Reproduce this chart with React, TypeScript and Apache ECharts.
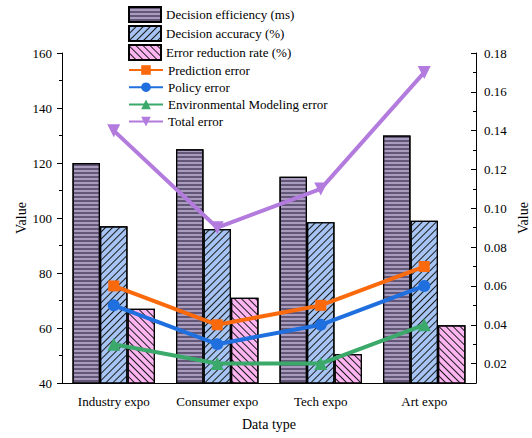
import React, { useEffect, useRef } from "react";
import * as echarts from "echarts";

const categories = ["Industry expo", "Consumer expo", "Tech expo", "Art expo"];

const decisionEfficiency = [120, 125, 115, 130];
const decisionAccuracy = [97, 96, 98.5, 99];
const errorReduction = [67, 71, 50.5, 61];

const predictionError = [0.06, 0.04, 0.05, 0.07];
const policyError = [0.05, 0.03, 0.04, 0.06];
const envModelingError = [0.03, 0.02, 0.02, 0.04];
const totalError = [0.14, 0.09, 0.11, 0.17];

const leftTicks = [40, 60, 80, 100, 120, 140, 160];
const rightTicks = [0.02, 0.04, 0.06, 0.08, 0.1, 0.12, 0.14, 0.16, 0.18];

const FONT = "'Liberation Serif', 'Times New Roman', serif";

export default function App() {
  const ref = useRef<HTMLDivElement>(null);

  useEffect(() => {
    document.body.style.margin = "0";
    if (!ref.current) return;
    const chart = echarts.init(ref.current, null, { renderer: "svg" });

    const barBase = {
      type: "bar",
      xAxisIndex: 0,
      yAxisIndex: 0,
      barWidth: 27.5,
      barGap: "0%",
    };

    const lineBase = (color: string, symbol: string, size: number, rotate = 0) => ({
      type: "line",
      xAxisIndex: 0,
      yAxisIndex: 1,
      symbol,
      symbolSize: size,
      symbolRotate: rotate,
      lineStyle: { color, width: 4 },
      itemStyle: { color },
      z: 5,
    });

    const legendText = { fontFamily: FONT, fontSize: 13, color: "#000" };

    chart.setOption({
      animation: false,
      textStyle: { fontFamily: FONT, color: "#000" },
      grid: {
        left: 62,
        right: 56,
        top: 53,
        bottom: 55,
        containLabel: false,
        outerBoundsMode: "none",
      },
      legend: [
        {
          orient: "vertical",
          left: 128,
          top: 6,
          padding: 0,
          icon: "rect",
          itemWidth: 32,
          itemHeight: 15,
          itemGap: 2,
          textStyle: legendText,
          data: ["Decision efficiency (ms)", "Decision accuracy (%)", "Error reduction rate (%)"],
        },
        {
          orient: "vertical",
          left: 128,
          top: 63.5,
          padding: 0,
          itemWidth: 34,
          itemHeight: 12,
          itemGap: 4.2,
          textStyle: legendText,
          data: ["Prediction error", "Policy error", "Environmental Modeling error", "Total error"],
        },
      ],
      xAxis: [
        {
          type: "category",
          data: categories,
          name: "Data type",
          nameLocation: "middle",
          nameGap: 34,
          nameMoveOverlap: false,
          nameTextStyle: { fontFamily: FONT, fontSize: 14, color: "#000" },
          axisLine: { lineStyle: { color: "#000", width: 1 } },
          axisTick: { alignWithLabel: true, length: 5, lineStyle: { color: "#000" } },
          axisLabel: { interval: 0, fontFamily: FONT, fontSize: 13, color: "#000", margin: 12 },
          splitLine: { show: false },
        },
        {
          type: "category",
          data: categories,
          position: "bottom",
          axisLine: { show: false },
          axisTick: { interval: 0, length: 3, lineStyle: { color: "#000" } },
          axisLabel: { show: false },
          splitLine: { show: false },
        },
      ],
      yAxis: [
        {
          type: "value",
          min: leftTicks[0],
          max: leftTicks[leftTicks.length - 1],
          interval: 20,
          name: "Value",
          nameLocation: "middle",
          nameRotate: 90,
          nameGap: 34,
          nameMoveOverlap: false,
          nameTextStyle: { fontFamily: FONT, fontSize: 14, color: "#000" },
          axisLine: { show: true, lineStyle: { color: "#000", width: 1 } },
          axisTick: { show: true, length: 5, lineStyle: { color: "#000" } },
          minorTick: { show: true, splitNumber: 2, length: 3, lineStyle: { color: "#000" } },
          axisLabel: { fontFamily: FONT, fontSize: 13, color: "#000", margin: 10 },
          splitLine: { show: false },
        },
        {
          type: "value",
          position: "right",
          min: 0.01,
          max: 0.18,
          interval: 0.01,
          axisLine: { show: true, lineStyle: { color: "#000", width: 1 } },
          axisTick: { show: true, inside: true, length: 3, lineStyle: { color: "#000" } },
          axisLabel: { show: false },
          splitLine: { show: false },
        },
        {
          type: "value",
          position: "right",
          min: 0.01,
          max: 0.18,
          name: "Value",
          nameLocation: "middle",
          nameRotate: 90,
          nameGap: 40,
          nameMoveOverlap: false,
          nameTextStyle: { fontFamily: FONT, fontSize: 14, color: "#000" },
          axisLine: { show: false },
          axisTick: {
            show: true,
            inside: true,
            length: 5,
            customValues: rightTicks,
            lineStyle: { color: "#000" },
          },
          axisLabel: {
            fontFamily: FONT,
            fontSize: 13,
            color: "#000",
            margin: 8,
            customValues: rightTicks,
            formatter: (v: number) => v.toFixed(2),
          },
          splitLine: { show: false },
        },
      ],
      series: [
        {
          ...barBase,
          name: "Decision efficiency (ms)",
          data: decisionEfficiency,
          itemStyle: {
            color: "#a89bbd",
            borderColor: "#000",
            borderWidth: 1.2,
            decal: {
              symbol: "rect",
              symbolSize: 1,
              dashArrayX: [1, 0],
              dashArrayY: [1.5, 1.5],
              color: "rgba(70,58,90,0.7)",
              rotation: 0,
            },
          },
        },
        {
          ...barBase,
          name: "Decision accuracy (%)",
          data: decisionAccuracy,
          itemStyle: {
            color: "#a6c4f4",
            borderColor: "#000",
            borderWidth: 1.2,
            decal: {
              symbol: "rect",
              symbolSize: 1,
              dashArrayX: [1, 0],
              dashArrayY: [1, 4],
              color: "#1a1a1a",
              rotation: -Math.PI / 4,
            },
          },
        },
        {
          ...barBase,
          name: "Error reduction rate (%)",
          data: errorReduction,
          itemStyle: {
            color: "#ffb5f2",
            borderColor: "#000",
            borderWidth: 1.2,
            decal: {
              symbol: "rect",
              symbolSize: 1,
              dashArrayX: [1, 0],
              dashArrayY: [1, 4],
              color: "#1a1a1a",
              rotation: Math.PI / 4,
            },
          },
        },
        { ...lineBase("#fa6a0c", "rect", 11), name: "Prediction error", data: predictionError },
        { ...lineBase("#1f6fdf", "circle", 12), name: "Policy error", data: policyError },
        {
          ...lineBase("#3aa96a", "triangle", 13),
          name: "Environmental Modeling error",
          data: envModelingError,
        },
        { ...lineBase("#b27bdd", "triangle", 13, 180), name: "Total error", data: totalError },
      ],
    });

    return () => chart.dispose();
  }, []);

  return <div ref={ref} style={{ width: 532, height: 438 }} />;
}
